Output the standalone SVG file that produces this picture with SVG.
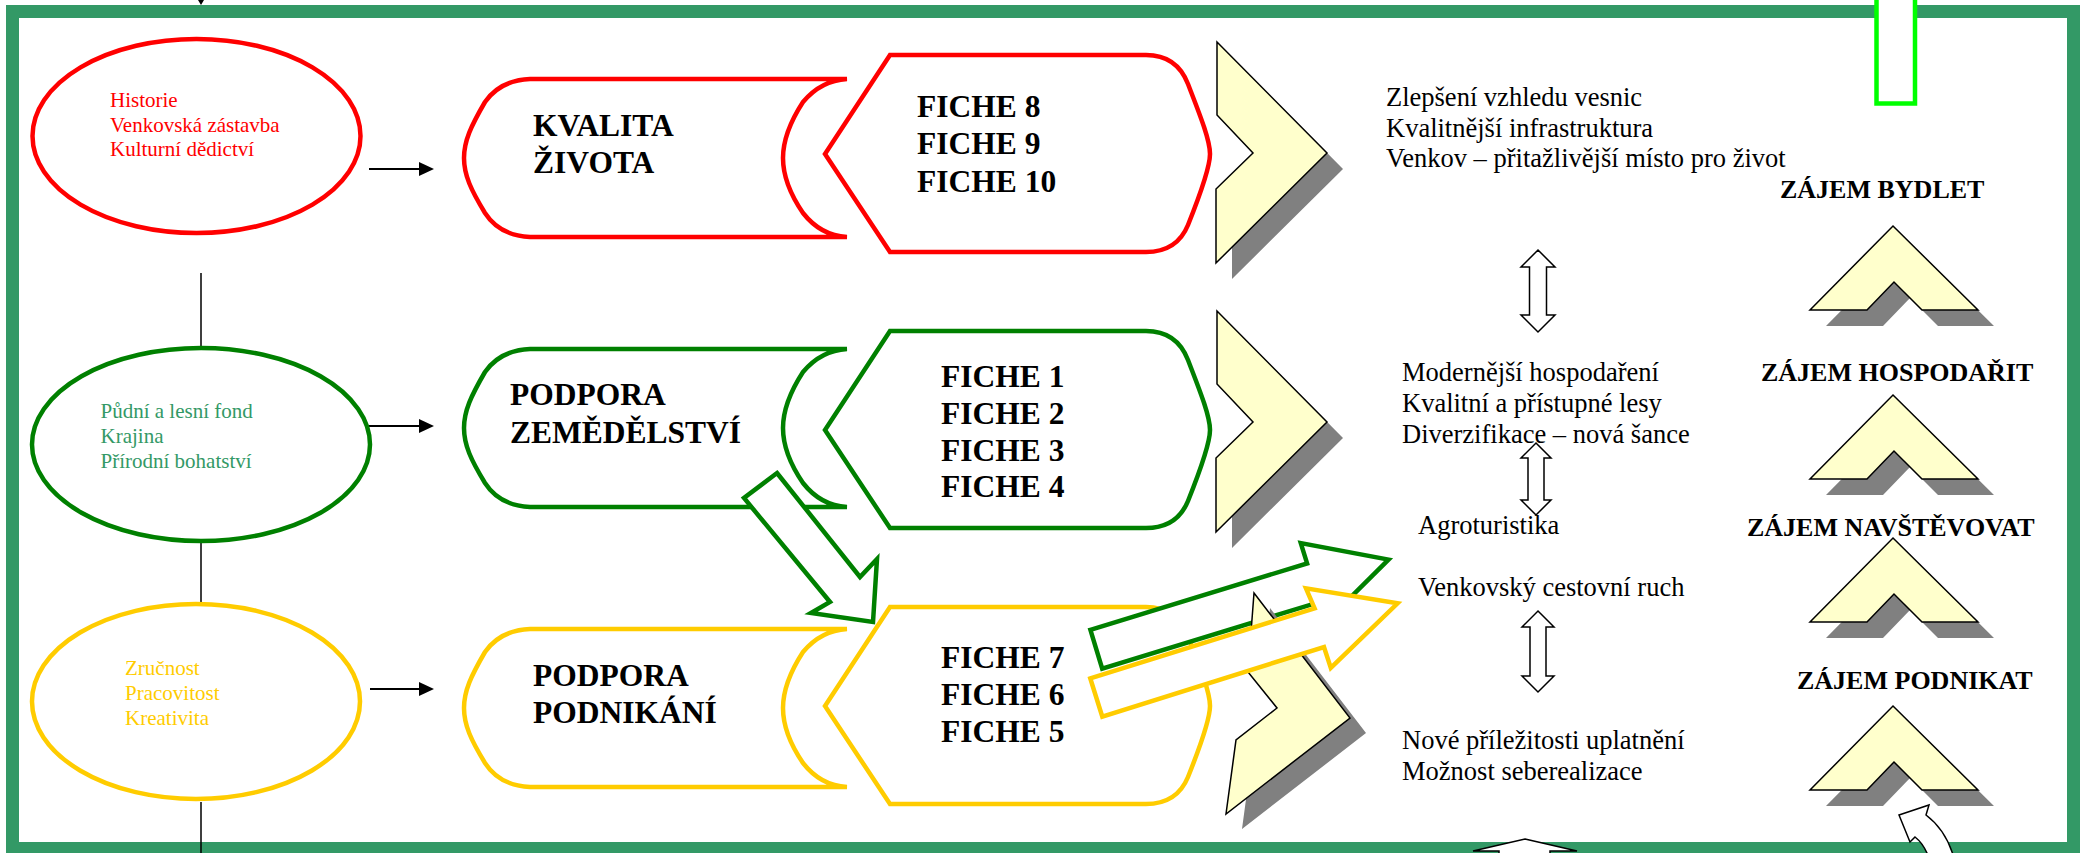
<svg xmlns="http://www.w3.org/2000/svg" width="2087" height="853" viewBox="0 0 2087 853">
<style>
  .frame{fill:none;stroke:#339966;stroke-width:13}
  .ell{fill:#fff;stroke-width:4.5}
  .t21{font-family:"Liberation Serif","Times New Roman",serif;font-size:21px}
  .tb{font-family:"Liberation Serif","Times New Roman",serif;font-size:31.5px;font-weight:bold;fill:#000}
  .tr{font-family:"Liberation Serif","Times New Roman",serif;font-size:26.5px;fill:#000}
  .tz{font-family:"Liberation Serif","Times New Roman",serif;font-size:26px;font-weight:bold;fill:#000}
  .shape{fill:#fff;stroke-width:4.5;stroke-linejoin:miter}
  .chev{fill:#FFFFCC;stroke:#000;stroke-width:1.5;stroke-linejoin:miter}
  .shadow{fill:#808080}
  .dbl{fill:#fff;stroke:#000;stroke-width:1.5}
  .conn{stroke:#000;stroke-width:2;fill:none}
  .vline{stroke:#000;stroke-width:1.5;fill:none}
  .red{stroke:#FF0000}
  .grn{stroke:#008000}
  .yel{stroke:#FFCC00}
</style>
<defs>
  <path id="lsh" d="M530,79 L847,79 C828,80 814,89 803,102 C790,122 783,140 783,158 C783,176 790,194 803,213 C814,227 828,236 847,237 L530,237 C508,236 494,227 485,213 C471,190 464,175 464,158 C464,141 471,126 485,102 C494,89 508,80 530,79 Z"/>
  <path id="hex" d="M890,55 L1146,55 C1168,55 1181,66 1188,84 C1200,115 1210,140 1210,154 C1210,168 1200,195 1188,225 C1181,242 1168,252 1146,252 L890,252 L825,154 Z"/>
  <polygon id="rchev" points="1217,42 1327,153 1216,263 1216,189 1253,153 1217,115"/>
  <polygon id="uchev" points="1893,226 1978,310 1922,310 1894,282 1867,310 1810,310"/>
  <marker id="ah" markerWidth="15" markerHeight="14" refX="11" refY="7" orient="auto" markerUnits="userSpaceOnUse">
    <path d="M0,0 L15,7 L0,14 Z" fill="#000"/>
  </marker>
</defs>

<rect class="frame" x="12.5" y="11.5" width="2061" height="837"/>

<g id="connectors">
  <path class="vline" d="M201,273 V347 M201,538 V612 M201,802 V853"/>
  <path d="M198,0 L204,0 L201,5 Z" fill="#000"/>
  <line class="conn" x1="369" y1="169" x2="430" y2="169" marker-end="url(#ah)"/>
  <line class="conn" x1="369" y1="426" x2="430" y2="426" marker-end="url(#ah)"/>
  <line class="conn" x1="370" y1="689" x2="430" y2="689" marker-end="url(#ah)"/>
</g>

<g id="ellipse-red">
  <ellipse class="ell red" cx="196.5" cy="136" rx="164" ry="97"/>
  <text class="t21" fill="#FF0000"><tspan x="110" y="107">Historie</tspan><tspan x="110" y="132">Venkovská zástavba</tspan><tspan x="110" y="156">Kulturní dědictví</tspan></text>
</g>
<g id="ellipse-green">
  <ellipse class="ell grn" cx="201" cy="444.5" rx="169" ry="96.5"/>
  <text class="t21" fill="#339966"><tspan x="100.5" y="418">Půdní a lesní fond</tspan><tspan x="100.5" y="443">Krajina</tspan><tspan x="100.5" y="468">Přírodní bohatství</tspan></text>
</g>
<g id="ellipse-yellow">
  <ellipse class="ell yel" cx="196" cy="701.5" rx="164" ry="97.5"/>
  <text class="t21" fill="#FFCC00"><tspan x="125" y="675">Zručnost</tspan><tspan x="125" y="700">Pracovitost</tspan><tspan x="125" y="725">Kreativita</tspan></text>
</g>

<g id="kvalita">
  <use href="#lsh" class="shape red"/>
  <text class="tb"><tspan x="533" y="136">KVALITA</tspan><tspan x="533" y="173">ŽIVOTA</tspan></text>
</g>
<g id="zemedelstvi">
  <use href="#lsh" class="shape grn" transform="translate(0,270)"/>
  <text class="tb"><tspan x="510" y="405">PODPORA</tspan><tspan x="510" y="443">ZEMĚDĚLSTVÍ</tspan></text>
</g>
<g id="podnikani">
  <use href="#lsh" class="shape yel" transform="translate(0,550)"/>
  <text class="tb"><tspan x="533" y="686">PODPORA</tspan><tspan x="533" y="723">PODNIKÁNÍ</tspan></text>
</g>

<g id="fiche-8-10">
  <use href="#hex" class="shape red"/>
  <text class="tb"><tspan x="917" y="117">FICHE 8</tspan><tspan x="917" y="154">FICHE 9</tspan><tspan x="917" y="192">FICHE 10</tspan></text>
</g>
<g id="fiche-1-4">
  <use href="#hex" class="shape grn" transform="translate(0,276)"/>
  <text class="tb"><tspan x="941" y="387">FICHE 1</tspan><tspan x="941" y="424">FICHE 2</tspan><tspan x="941" y="461">FICHE 3</tspan><tspan x="941" y="497">FICHE 4</tspan></text>
</g>
<g id="fiche-5-7">
  <use href="#hex" class="shape yel" transform="translate(0,552)"/>
  <text class="tb"><tspan x="941" y="668">FICHE 7</tspan><tspan x="941" y="705">FICHE 6</tspan><tspan x="941" y="742">FICHE 5</tspan></text>
</g>

<g id="diag-arrow">
  <polygon class="shape grn" points="777,473 860,577 877,559 873,622 811,613 830,602 744,498"/>
</g>

<g id="chevron-1">
  <use href="#rchev" class="shadow" transform="translate(16,16)"/>
  <use href="#rchev" class="chev"/>
</g>
<g id="chevron-2">
  <use href="#rchev" class="shadow" transform="translate(16,285)"/>
  <use href="#rchev" class="chev" transform="translate(0,269)"/>
</g>

<g id="long-arrow-green">
  <polygon class="shape grn" points="1090.4,629.8 1307.1,563.4 1300.8,543.1 1388.5,559.6 1325.2,622.5 1319,602.2 1102.2,668.6"/>
</g>
<g id="chevron-3">
  <polygon class="shadow" points="1270,608 1366,733 1242,829 1252,755 1293,723 1264,687"/>
  <polygon class="chev" points="1254,593 1350,718 1226,814 1236,740 1277,708 1248,672"/>
</g>
<g id="long-arrow-yellow">
  <polygon class="shape yel" points="1090.3,678.4 1314.6,608.3 1306,588.3 1397.6,603.3 1330.8,667.9 1324,647 1102.3,716.6"/>
</g>

<g id="outcomes-1">
  <text class="tr"><tspan x="1386" y="106">Zlepšení vzhledu vesnic</tspan><tspan x="1386" y="137">Kvalitnější infrastruktura</tspan><tspan x="1386" y="167">Venkov – přitažlivější místo pro život</tspan></text>
</g>
<g id="outcomes-2">
  <text class="tr"><tspan x="1402" y="381">Modernější hospodaření</tspan><tspan x="1402" y="412">Kvalitní a přístupné lesy</tspan><tspan x="1402" y="443">Diverzifikace – nová šance</tspan></text>
</g>
<g id="agroturistika">
  <text class="tr" x="1418" y="534">Agroturistika</text>
</g>
<g id="cestovni-ruch">
  <text class="tr" x="1418" y="596">Venkovský cestovní ruch</text>
</g>
<g id="outcomes-3">
  <text class="tr"><tspan x="1402" y="749">Nové příležitosti uplatnění</tspan><tspan x="1402" y="780">Možnost seberealizace</tspan></text>
</g>

<g id="double-arrows">
  <path class="dbl" d="M1538,250 L1555,267 L1546.5,267 L1546.5,315 L1555,315 L1538,332 L1521,315 L1529.5,315 L1529.5,267 L1521,267 Z"/>
  <path class="dbl" d="M1536,443 L1551,458 L1544,458 L1544,500 L1551,500 L1536,515 L1521,500 L1528,500 L1528,458 L1521,458 Z"/>
  <path class="dbl" d="M1538,611 L1554,627 L1546,627 L1546,676 L1554,676 L1538,692 L1522,676 L1530,676 L1530,627 L1522,627 Z"/>
</g>

<g id="zajem-bydlet">
  <text class="tz" x="1780" y="198">ZÁJEM BYDLET</text>
  <use href="#uchev" class="shadow" transform="translate(16,16)"/>
  <use href="#uchev" class="chev"/>
</g>
<g id="zajem-hospodarit">
  <text class="tz" x="1761" y="381">ZÁJEM HOSPODAŘIT</text>
  <use href="#uchev" class="shadow" transform="translate(16,185)"/>
  <use href="#uchev" class="chev" transform="translate(0,169)"/>
</g>
<g id="zajem-navstevovat">
  <text class="tz" x="1747" y="536">ZÁJEM NAVŠTĚVOVAT</text>
  <use href="#uchev" class="shadow" transform="translate(16,328)"/>
  <use href="#uchev" class="chev" transform="translate(0,312)"/>
</g>
<g id="zajem-podnikat">
  <text class="tz" x="1797" y="689">ZÁJEM PODNIKAT</text>
  <use href="#uchev" class="shadow" transform="translate(16,496)"/>
  <use href="#uchev" class="chev" transform="translate(0,480)"/>
</g>

<g id="top-rect">
  <rect x="1876.5" y="-10" width="38.5" height="113.5" fill="#fff" stroke="#00FF00" stroke-width="4.5"/>
</g>
<g id="bottom-arrows">
  <path class="dbl" d="M1899,815 L1929,805 L1926,815 Q1946,830 1954,858 L1929,858 Q1924,844 1915,837 L1910,842 Z"/>
  <path class="dbl" d="M1525,839 L1577,851 L1550,851 L1550,858 L1499,858 L1499,851 L1473,851 Z"/>
</g>
</svg>
